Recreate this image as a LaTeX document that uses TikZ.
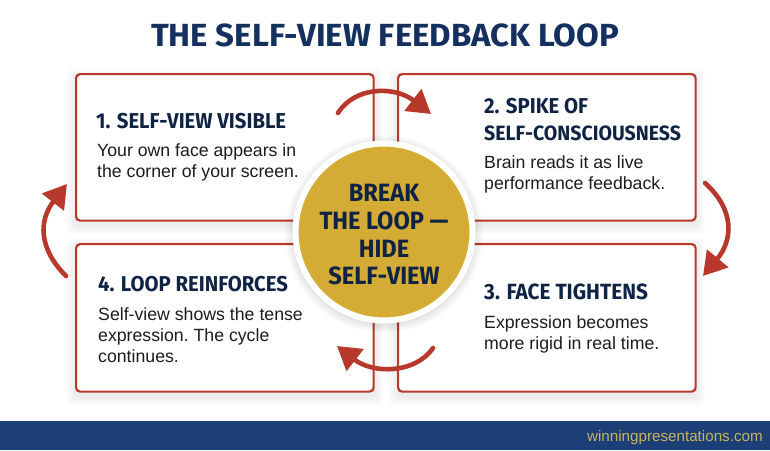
\documentclass[tikz,border=0pt]{standalone}
\usepackage{fontspec}
\setmainfont{Liberation Sans}
\newfontfamily\headfont[FakeStretch=0.945]{Fira Sans}
\newfontfamily\titlefont[FakeStretch=1.03]{Fira Sans}
\usetikzlibrary{arrows.meta,backgrounds,calc}
\definecolor{loopred}{HTML}{B8392B}
\definecolor{loopgold}{HTML}{D4AC35}
\definecolor{titlenavy}{HTML}{14305F}
\definecolor{headnavy}{HTML}{0F2344}
\definecolor{bodyink}{HTML}{1C1C1C}
\definecolor{barnavy}{HTML}{1C3F78}
\definecolor{bargold}{HTML}{C9B458}
\tikzset{
  x=1pt,y=-1pt,
  cardbox/.style={draw=loopred,line width=2.2pt,fill=white,rounded corners=4pt,
    minimum width=297.5pt,minimum height=146.5pt,inner sep=0pt,anchor=north west},
  cardhead/.style={anchor=base west,inner sep=0pt,text=headnavy,
    font=\headfont\bfseries\fontsize{21.5}{27}\selectfont,align=left},
  cardbody/.style={anchor=base west,inner sep=0pt,text=bodyink,
    font=\frenchspacing\fontsize{17.7}{21}\selectfont,align=left},
  hubtext/.style={anchor=base,inner sep=0pt,text=headnavy,
    font=\headfont\bfseries\fontsize{25}{27}\selectfont},
  softshade/.style={fill=black,fill opacity=.006,draw=none},
  looparrow/.style={draw=loopred,line width=4.6pt,line cap=round,
    -{Triangle[length=23pt,width=27pt,fill=loopred]}},
}
\begin{document}
\begin{tikzpicture}
\useasboundingbox (0,0) rectangle (770,450);
\node[inner sep=0pt,fill=barnavy,minimum width=770pt,minimum height=29pt,anchor=north west] (bar) at (0,421) {};
\node[anchor=base east,inner sep=0pt,text=bargold,font=\fontsize{15.2}{18}\selectfont] (site) at (763,441) {winningpresentations.com};
\node[anchor=base,inner sep=0pt,text=titlenavy,font=\titlefont\bfseries\fontsize{32}{36}\selectfont] (title) at (385,46) {THE SELF-VIEW FEEDBACK LOOP};
\node[cardbox] (c1) at (75,73) {};
\node[cardbox] (c2) at (397,73) {};
\node[cardbox,minimum height=147.5pt] (c3) at (397,243) {};
\node[cardbox,minimum height=147.5pt] (c4) at (75,243) {};
\begin{pgfonlayer}{background}
\fill[white] (0,0) rectangle (770,450);
\foreach \n in {c1,c2,c3,c4}
  \foreach \k in {1,...,9}
    \fill[softshade,rounded corners=6pt]
      ($(\n.north west)+(-\k,-\k+4)$) rectangle ($(\n.south east)+(\k,\k+4)$);
\end{pgfonlayer}
\node[cardhead] (h1) at (96,128) {1. SELF-VIEW VISIBLE};
\node[cardbody] (b1a) at (97,156) {Your own face appears in};
\node[cardbody] (b1b) at (97,177) {the corner of your screen.};
\node[cardhead] (h2a) at (484,113) {2. SPIKE OF};
\node[cardhead,font=\headfont\bfseries\fontsize{20.7}{27}\selectfont] (h2b) at (484,140) {SELF-CONSCIOUSNESS};
\node[cardbody] (b2a) at (484,168) {Brain reads it as live};
\node[cardbody] (b2b) at (484,189) {performance feedback.};
\node[cardhead,font=\headfont\bfseries\fontsize{22}{27}\selectfont] (h3) at (484,299) {3. FACE TIGHTENS};
\node[cardbody] (b3a) at (484,328) {Expression becomes};
\node[cardbody] (b3b) at (484,349) {more rigid in real time.};
\node[cardhead] (h4) at (98,291) {4. LOOP REINFORCES};
\node[cardbody] (b4a) at (98,320) {Self-view shows the tense};
\node[cardbody] (b4b) at (98,341) {expression. The cycle};
\node[cardbody] (b4c) at (98,362) {continues.};
\foreach \k in {1,...,9}
  \fill[black,fill opacity=.01] (384,234) circle ({90+\k});
\node[circle,fill=loopgold,draw=white,line width=6pt,minimum size=177pt,inner sep=0pt] (hub) at (384,232) {};
\node[hubtext] (t1) at (384,201) {BREAK};
\node[hubtext] (t2) at (384,229) {THE LOOP —};
\node[hubtext] (t3) at (384,257) {HIDE};
\node[hubtext] (t4) at (384,284) {SELF-VIEW};
\coordinate (a1s) at (338,113);
\coordinate (a1e) at (431,114);
\coordinate (a2s) at (705,183);
\coordinate (a2e) at (703,276);
\coordinate (a3s) at (433,348);
\coordinate (a3e) at (337,346);
\coordinate (a4s) at (66,276);
\coordinate (a4e) at (67,184);
\draw[looparrow] (a1s) .. controls (355,86) and (395,86) .. (a1e);
\draw[looparrow] (a2s) .. controls (735,210) and (733,240) .. (a2e);
\draw[looparrow] (a3s) .. controls (415,374) and (373,374) .. (a3e);
\draw[looparrow] (a4s) .. controls (38,248) and (39,220) .. (a4e);
\end{tikzpicture}
\end{document}
